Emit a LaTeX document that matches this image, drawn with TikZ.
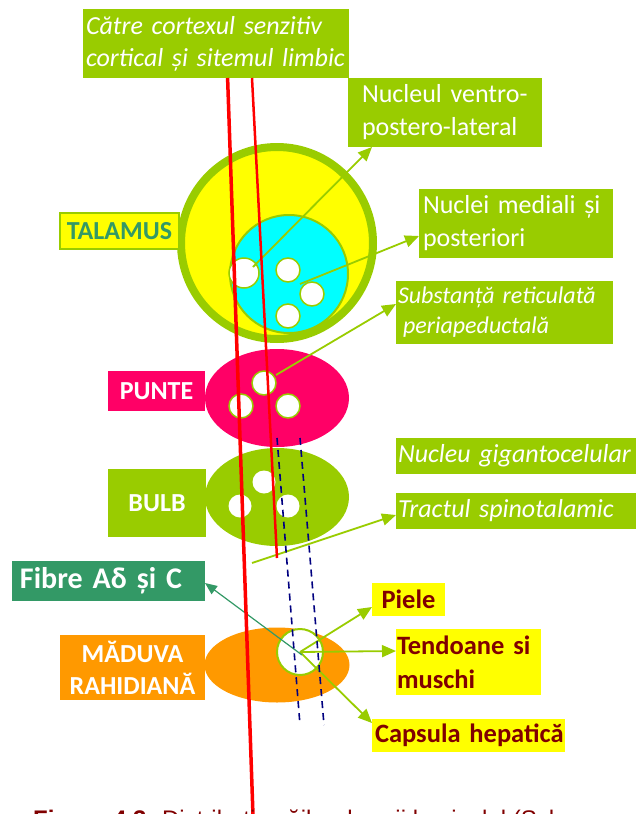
\documentclass[tikz,border=0pt]{standalone}
\usepackage{fontspec}
\setmainfont{Carlito}
\newfontfamily\capfont{Liberation Sans}
\usetikzlibrary{arrows.meta,shapes.geometric}
\definecolor{G}{HTML}{99CC00}
\definecolor{Mag}{HTML}{FF0066}
\definecolor{Org}{HTML}{FF9900}
\definecolor{Teal}{HTML}{339966}
\definecolor{DR}{HTML}{800000}
\definecolor{Nav}{HTML}{000080}
\definecolor{Yel}{HTML}{FFFF00}
\definecolor{Cy}{HTML}{00FFFF}
\begin{document}
\begin{tikzpicture}[x=1pt,y=-1pt,
  lbl/.style={anchor=north west, inner ysep=0pt, outer sep=0pt},
  gbox/.style={lbl, fill=G, text=white},
  ybox/.style={lbl, fill=Yel, text=DR, font=\fontsize{26.5}{34}\selectfont\bfseries},
  wcirc/.style={circle, draw=G, line width=1.5pt, fill=white, inner sep=0pt, minimum size=#1},
  wdot/.style={circle, fill=white, inner sep=0pt, minimum size=#1},
  arr/.style={draw=G, line width=1.8pt, -{Triangle[length=14pt,width=12pt]}},
  tarr/.style={draw=Teal, line width=1.2pt, -{Triangle[length=12pt,width=10pt]}},
  redline/.style={draw=red, line cap=butt},
  navdash/.style={draw=Nav, line width=1.6pt, dash pattern=on 7pt off 5pt}
]
\useasboundingbox (0,0) rectangle (636,814);

% ---- brain structures
\node[circle, draw=G, line width=8pt, fill=Yel, minimum size=192pt, inner sep=0pt] (thal) at (277,243) {};
\node[circle, draw=G, line width=2pt, fill=Cy, minimum size=118pt, inner sep=0pt] (cyan) at (289,274) {};
\node[wcirc=30pt] (t1) at (244,273) {};
\node[wcirc=24pt] (t2) at (288,270) {};
\node[wcirc=24pt] (t3) at (312,294) {};
\node[wcirc=24pt] (t4) at (288,316) {};

\node[ellipse, fill=Mag, minimum width=144pt, minimum height=98pt, inner sep=0pt] (punte) at (277,398) {};
\node[wcirc=24pt] (p1) at (264,383) {};
\node[wcirc=24pt] (p2) at (241,406) {};
\node[wcirc=24pt] (p3) at (288,406) {};

\node[ellipse, fill=G, minimum width=144pt, minimum height=98pt, inner sep=0pt] (bulb) at (277,497) {};
\node[wdot=23pt] (b1) at (264,482) {};
\node[wdot=23pt] (b2) at (240,506) {};
\node[wdot=23pt] (b3) at (288,506) {};

\node[ellipse, fill=Org, minimum width=145pt, minimum height=75pt, inner sep=0pt] (mad) at (277,665) {};
\node[wcirc=46pt, line width=2pt] (mc) at (300,652) {};

% ---- labels
\node[gbox, minimum width=266pt, minimum height=69pt, text width=260pt, inner xsep=3pt, align=left,
  font=\fontsize{26}{32}\selectfont\itshape] (cortex) at (83,9) {Către cortexul senzitiv\\cortical și sitemul limbic};
\node[gbox, minimum width=194pt, minimum height=69pt, text width=166pt, inner xsep=14pt, align=left,
  font=\fontsize{26}{33}\selectfont] (nvpl) at (348,78) {Nucleul ventro-\\postero-lateral};
\node[gbox, minimum width=194pt, minimum height=69pt, text width=186pt, inner xsep=4pt, align=left,
  font=\fontsize{26}{33}\selectfont] (nmed) at (419,189) {Nuclei mediali și\\posteriori};
\node[gbox, minimum width=217pt, minimum height=63pt, text width=213pt, inner xsep=2pt, align=left,
  font=\fontsize{24}{30}\selectfont\itshape] (subst) at (396,281) {Substanță reticulată\\\hspace*{5pt}periapeductală};
\node[gbox, minimum width=240pt, minimum height=36pt, text width=238pt, inner xsep=1pt, align=left,
  font=\fontsize{26}{32}\selectfont\itshape] (gig) at (396,438) {\mbox{\hspace*{1pt}Nucleu gigantocelular}};
\node[gbox, minimum width=240pt, minimum height=36pt, text width=238pt, inner xsep=1pt, align=left,
  font=\fontsize{26}{32}\selectfont\itshape] (tract) at (396,493) {\mbox{\hspace*{1pt}Tractul spinotalamic}};

\node[lbl, fill=Yel, draw=G, line width=2pt, minimum width=119pt, minimum height=36pt, inner xsep=0pt,
  text=Teal, font=\fontsize{26}{32}\selectfont\bfseries] (talamus) at (60,213) {TALAMUS};
\node[gbox, fill=Mag, minimum width=97pt, minimum height=40pt, inner xsep=0pt,
  font=\fontsize{26}{32}\selectfont\bfseries] (puntel) at (108,371) {PUNTE};
\node[gbox, minimum width=98pt, minimum height=68pt, inner xsep=0pt,
  font=\fontsize{26}{32}\selectfont\bfseries] (bulbl) at (108,469) {BULB};
\node[gbox, fill=Org, minimum width=145pt, minimum height=65pt, inner xsep=0pt, align=center,
  font=\fontsize{26}{32}\selectfont\bfseries] (madl) at (60,635) {MĂDUVA\\RAHIDIANĂ};
\node[gbox, fill=Teal, minimum width=193pt, minimum height=40pt, text width=185pt, inner xsep=4pt, align=left,
  font=\fontsize{30}{34}\selectfont\bfseries] (fibre) at (12,561) {\mbox{\hspace*{4pt}Fibre Aδ și C}};

\node[ybox, minimum width=73pt, minimum height=33pt, inner xsep=0pt] (piele) at (372,583) {Piele};
\node[ybox, minimum width=145pt, minimum height=66pt, text width=143pt, inner xsep=1pt, align=left] (tend) at (396,629) {Tendoane si\\muschi};
\node[ybox, minimum width=193pt, minimum height=33pt, text width=189pt, inner xsep=2pt, align=left] (caps) at (372,719) {\mbox{\hspace*{1pt}Capsula hepatică}};

% ---- connectors
\coordinate (s1) at (253,267);
\coordinate (s2) at (300,284);
\coordinate (s3) at (276,375);
\coordinate (s4) at (252,563);
\coordinate (s5) at (300,652);
\coordinate (s6) at (302,655);
\draw[arr] (s1) -- ([xshift=24pt]nvpl.south west);
\draw[arr] (s2) -- ([yshift=-12.5pt]nmed.west);
\draw[arr] (s3) -- ([yshift=8.5pt]subst.west);
\draw[arr] (s4) -- ([yshift=-4pt]tract.west);
\draw[arr] (s5) -- ([yshift=-7.5pt]piele.west);
\draw[arr] (s5) -- ([yshift=11pt]tend.west);
\draw[arr] (s5) -- ([yshift=-4pt]caps.north west);
\draw[tarr] (s6) -- ([yshift=-2pt]fibre.east);

% ---- fibre tracts
\coordinate (r1end) at (253.5,830);
\coordinate (r2end) at (277,558);
\draw[redline, line width=3.5pt] ([xshift=144.6pt]cortex.south west) -- (r1end);
\draw[redline, line width=2.5pt] ([xshift=169pt]cortex.south west) -- (r2end);
\coordinate (d1a) at (277,438);
\coordinate (d1b) at (300,725);
\coordinate (d2a) at (300,438);
\coordinate (d2b) at (324,725);
\draw[navdash] (d1a) -- (d1b);
\draw[navdash] (d2a) -- (d2b);

% ---- caption (cut off at the bottom edge, as in the reference)
\node[anchor=base west, inner sep=0pt, text=DR, font=\capfont\fontsize{24}{28}\selectfont] (caption) at (33,827.5)
  {\textbf{Figura 4.3.} Distribuția căilor durerii la nivelul (Sch};
\end{tikzpicture}
\end{document}
